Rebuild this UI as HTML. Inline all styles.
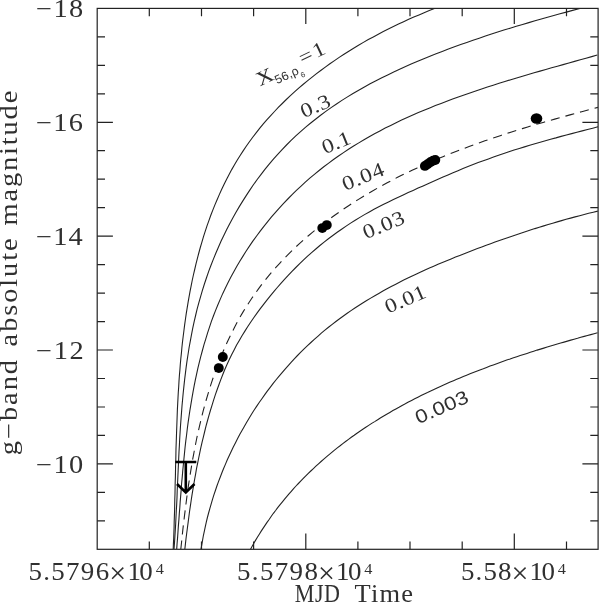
<!DOCTYPE html>
<html><head><meta charset="utf-8"><title>g-band absolute magnitude vs MJD Time</title>
<style>html,body{margin:0;padding:0;background:#fff;overflow:hidden}svg{display:block}text{font-family:"Liberation Serif",serif;fill:#303030}.sans{font-family:"Liberation Sans",sans-serif}</style></head><body>
<svg width="600" height="603" viewBox="0 0 600 603">
<rect x="0" y="0" width="600" height="603" fill="#fff"/>
<defs><clipPath id="fr"><rect x="97.2" y="8.4" width="500.9" height="540.9"/></clipPath></defs>
<g clip-path="url(#fr)" fill="none" stroke="#222" stroke-width="1.1">
<path d="M173.2,549.4 L173.4,543.8 L173.7,538.2 L173.9,532.6 L174.1,527.0 L174.2,521.4 L174.4,515.8 L174.6,510.2 L174.7,504.6 L174.8,499.0 L175.0,493.4 L175.1,487.8 L175.2,482.2 L175.4,476.5 L175.5,470.9 L175.6,465.3 L175.8,459.7 L175.9,454.1 L176.0,448.5 L176.2,442.9 L176.4,437.2 L176.6,431.6 L176.8,426.0 L177.0,420.4 L177.2,414.8 L177.4,409.2 L177.7,403.6 L178.0,397.9 L178.3,392.3 L178.7,386.7 L179.0,381.1 L179.4,375.5 L179.9,369.9 L180.3,364.3 L180.8,358.7 L181.4,353.1 L181.9,347.5 L182.5,341.9 L183.2,336.3 L183.9,330.7 L184.6,325.1 L185.4,319.5 L186.2,313.9 L187.1,308.4 L188.0,302.8 L189.0,297.2 L190.0,291.6 L191.1,286.1 L192.2,280.5 L193.4,275.0 L194.7,269.5 L196.0,263.9 L197.4,258.4 L198.8,253.0 L200.3,247.5 L201.9,242.1 L203.5,236.7 L205.2,231.3 L207.0,225.9 L208.9,220.6 L210.8,215.3 L212.8,210.1 L214.9,204.9 L217.1,199.7 L219.3,194.6 L221.6,189.5 L224.0,184.4 L226.5,179.4 L229.1,174.5 L231.7,169.6 L234.5,164.8 L237.3,160.0 L240.3,155.3 L243.3,150.6 L246.4,146.0 L249.6,141.5 L252.9,137.0 L256.3,132.6 L259.8,128.2 L263.3,123.9 L267.0,119.7 L270.7,115.6 L274.5,111.5 L278.3,107.4 L282.3,103.5 L286.3,99.5 L290.4,95.7 L294.5,91.9 L298.7,88.2 L303.0,84.5 L307.4,80.9 L311.8,77.4 L316.2,73.9 L320.7,70.5 L325.3,67.1 L329.9,63.8 L334.5,60.6 L339.2,57.4 L344.0,54.3 L348.8,51.2 L353.6,48.2 L358.5,45.3 L363.4,42.4 L368.3,39.6 L373.3,36.9 L378.3,34.2 L383.3,31.6 L388.3,29.0 L393.4,26.5 L398.5,24.1 L403.6,21.7 L408.7,19.3 L413.8,17.1 L419.0,14.9 L424.1,12.7 L429.3,10.6 L434.4,8.6 L439.6,6.7 L444.8,4.7 L450.0,2.9"/>
<path d="M174.0,549.2 L174.5,542.8 L174.9,536.4 L175.3,530.0 L175.7,523.5 L176.0,517.0 L176.3,510.6 L176.7,504.1 L177.0,497.6 L177.2,491.1 L177.5,484.5 L177.8,478.0 L178.1,471.5 L178.4,464.9 L178.7,458.4 L179.0,451.9 L179.4,445.3 L179.7,438.8 L180.1,432.2 L180.5,425.7 L181.0,419.1 L181.5,412.6 L182.0,406.0 L182.6,399.5 L183.2,393.0 L183.9,386.4 L184.6,379.9 L185.4,373.4 L186.2,366.9 L187.1,360.4 L188.1,354.0 L189.1,347.5 L190.3,341.1 L191.5,334.7 L192.7,328.3 L194.1,321.9 L195.6,315.5 L197.1,309.2 L198.8,302.9 L200.6,296.6 L202.4,290.3 L204.4,284.0 L206.5,277.8 L208.6,271.6 L210.9,265.5 L213.3,259.4 L215.8,253.3 L218.4,247.3 L221.0,241.3 L223.8,235.4 L226.7,229.5 L229.7,223.7 L232.8,218.0 L236.0,212.3 L239.3,206.6 L242.7,201.1 L246.2,195.6 L249.8,190.1 L253.4,184.8 L257.2,179.5 L261.1,174.3 L265.1,169.2 L269.2,164.2 L273.4,159.2 L277.7,154.4 L282.1,149.6 L286.5,145.0 L291.1,140.4 L295.8,135.9 L300.6,131.6 L305.4,127.3 L310.4,123.2 L315.5,119.2 L320.6,115.2 L325.8,111.4 L331.1,107.6 L336.5,104.0 L341.9,100.4 L347.5,96.9 L353.0,93.5 L358.7,90.2 L364.4,87.0 L370.1,83.8 L376.0,80.8 L381.8,77.8 L387.7,74.9 L393.7,72.0 L399.6,69.2 L405.6,66.5 L411.7,63.8 L417.7,61.2 L423.8,58.7 L429.9,56.2 L436.1,53.8 L442.2,51.4 L448.4,49.1 L454.5,46.8 L460.7,44.6 L466.8,42.4 L473.0,40.3 L479.2,38.2 L485.4,36.1 L491.5,34.1 L497.7,32.1 L503.9,30.1 L510.1,28.2 L516.3,26.3 L522.6,24.5 L528.8,22.6 L535.0,20.8 L541.3,19.0 L547.5,17.3 L553.8,15.5 L560.0,13.8 L566.3,12.1 L572.6,10.4 L578.9,8.7 L585.2,7.1 L591.5,5.4 L597.8,3.8"/>
<path d="M176.7,549.1 L177.1,543.3 L177.6,537.4 L178.0,531.5 L178.4,525.6 L178.9,519.6 L179.3,513.6 L179.8,507.7 L180.2,501.6 L180.7,495.6 L181.2,489.6 L181.6,483.5 L182.2,477.4 L182.7,471.4 L183.3,465.3 L183.9,459.2 L184.5,453.1 L185.1,447.0 L185.8,440.9 L186.6,434.8 L187.3,428.7 L188.1,422.6 L189.0,416.5 L189.9,410.4 L190.9,404.3 L191.9,398.3 L193.0,392.2 L194.1,386.2 L195.3,380.2 L196.6,374.2 L197.9,368.2 L199.3,362.3 L200.8,356.4 L202.4,350.5 L204.0,344.6 L205.8,338.8 L207.6,332.9 L209.5,327.2 L211.4,321.4 L213.5,315.7 L215.7,310.1 L218.0,304.5 L220.4,298.9 L222.8,293.4 L225.4,287.9 L228.1,282.5 L230.9,277.1 L233.8,271.8 L236.7,266.5 L239.8,261.3 L243.0,256.1 L246.2,251.0 L249.6,245.9 L253.0,240.9 L256.6,236.0 L260.2,231.1 L263.9,226.3 L267.7,221.6 L271.5,216.9 L275.5,212.3 L279.5,207.8 L283.6,203.3 L287.8,199.0 L292.1,194.6 L296.4,190.4 L300.8,186.3 L305.3,182.2 L309.8,178.2 L314.4,174.3 L319.1,170.5 L323.8,166.7 L328.7,163.1 L333.5,159.5 L338.5,156.0 L343.5,152.6 L348.5,149.3 L353.6,146.0 L358.8,142.9 L364.0,139.8 L369.2,136.8 L374.5,133.8 L379.9,130.9 L385.2,128.1 L390.7,125.4 L396.1,122.7 L401.6,120.1 L407.2,117.5 L412.8,115.0 L418.4,112.6 L424.0,110.2 L429.7,107.9 L435.4,105.6 L441.1,103.4 L446.8,101.2 L452.6,99.0 L458.3,96.9 L464.1,94.9 L469.9,92.9 L475.7,90.9 L481.6,88.9 L487.4,87.0 L493.2,85.2 L499.1,83.3 L504.9,81.5 L510.8,79.7 L516.6,78.0 L522.5,76.2 L528.3,74.5 L534.1,72.8 L540.0,71.1 L545.8,69.5 L551.6,67.8 L557.4,66.2 L563.1,64.6 L568.9,63.0 L574.6,61.4 L580.3,59.8 L586.0,58.2 L591.7,56.6 L597.3,55.0"/>
<path d="M180.8,549.3 L181.4,543.8 L181.9,538.4 L182.5,532.9 L183.1,527.4 L183.8,521.9 L184.4,516.4 L185.1,510.9 L185.8,505.3 L186.5,499.8 L187.2,494.2 L188.0,488.6 L188.8,483.1 L189.7,477.5 L190.6,471.9 L191.5,466.3 L192.4,460.7 L193.5,455.2 L194.5,449.6 L195.6,444.0 L196.7,438.5 L197.9,432.9 L199.2,427.4 L200.5,421.9 L201.8,416.4 L203.2,410.9 L204.7,405.4 L206.2,400.0 L207.8,394.6 L209.4,389.2 L211.1,383.8 L212.9,378.5 L214.7,373.2 L216.7,367.9 L218.6,362.6 L220.7,357.4 L222.8,352.3 L225.0,347.1 L227.3,342.0 L229.7,337.0 L232.2,332.0 L234.7,327.0 L237.3,322.1 L240.0,317.2 L242.8,312.4 L245.7,307.7 L248.7,303.0 L251.8,298.3 L255.0,293.7 L258.3,289.2 L261.6,284.7 L265.1,280.3 L268.6,275.9 L272.2,271.6 L275.9,267.4 L279.7,263.3 L283.5,259.2 L287.5,255.1 L291.5,251.2 L295.5,247.3 L299.7,243.4 L303.9,239.7 L308.1,236.0 L312.4,232.4 L316.8,228.8 L321.2,225.3 L325.7,221.9 L330.2,218.5 L334.7,215.2 L339.3,212.0 L344.0,208.8 L348.6,205.7 L353.3,202.6 L358.1,199.6 L362.8,196.7 L367.6,193.8 L372.5,191.0 L377.3,188.2 L382.2,185.5 L387.2,182.8 L392.1,180.2 L397.1,177.6 L402.1,175.1 L407.1,172.7 L412.1,170.2 L417.2,167.9 L422.3,165.5 L427.4,163.3 L432.6,161.0 L437.7,158.8 L442.9,156.7 L448.1,154.6 L453.3,152.5 L458.5,150.5 L463.8,148.5 L469.1,146.5 L474.3,144.6 L479.6,142.7 L484.9,140.8 L490.2,139.0 L495.6,137.2 L500.9,135.4 L506.3,133.7 L511.6,131.9 L517.0,130.3 L522.3,128.6 L527.7,127.0 L533.1,125.3 L538.5,123.7 L543.9,122.2 L549.3,120.6 L554.7,119.1 L560.1,117.6 L565.5,116.1 L570.9,114.6 L576.3,113.1 L581.7,111.7 L587.1,110.2 L592.5,108.8 L597.9,107.4" stroke-dasharray="9.1,6.0" stroke-dashoffset="0.18"/>
<path d="M184.8,549.5 L185.4,544.1 L186.0,538.7 L186.7,533.3 L187.4,528.0 L188.1,522.6 L188.8,517.2 L189.5,511.8 L190.3,506.4 L191.1,501.0 L191.9,495.6 L192.8,490.2 L193.7,484.8 L194.6,479.5 L195.6,474.1 L196.5,468.7 L197.6,463.4 L198.7,458.0 L199.8,452.7 L200.9,447.4 L202.1,442.1 L203.4,436.8 L204.7,431.5 L206.0,426.2 L207.4,421.0 L208.9,415.7 L210.4,410.5 L212.0,405.3 L213.6,400.1 L215.3,394.9 L217.1,389.8 L218.9,384.7 L220.8,379.6 L222.8,374.5 L224.8,369.5 L227.0,364.5 L229.3,359.6 L231.6,354.7 L234.1,349.9 L236.6,345.1 L239.3,340.4 L242.0,335.7 L244.9,331.1 L247.8,326.5 L250.8,322.0 L253.9,317.5 L257.0,313.1 L260.3,308.7 L263.6,304.4 L266.9,300.1 L270.3,295.8 L273.8,291.6 L277.3,287.5 L280.9,283.4 L284.5,279.3 L288.2,275.3 L292.0,271.4 L295.8,267.5 L299.7,263.7 L303.6,259.9 L307.6,256.2 L311.6,252.6 L315.8,249.0 L319.9,245.5 L324.1,242.1 L328.4,238.8 L332.8,235.5 L337.2,232.3 L341.6,229.2 L346.1,226.1 L350.6,223.1 L355.2,220.2 L359.9,217.4 L364.5,214.6 L369.3,211.9 L374.0,209.3 L378.8,206.8 L383.7,204.3 L388.5,201.9 L393.4,199.5 L398.3,197.2 L403.2,194.9 L408.2,192.6 L413.1,190.4 L418.1,188.1 L423.1,185.9 L428.0,183.7 L433.0,181.5 L438.0,179.3 L443.0,177.1 L448.0,174.9 L453.0,172.8 L458.0,170.7 L463.0,168.6 L468.0,166.6 L473.1,164.6 L478.2,162.6 L483.3,160.7 L488.4,158.9 L493.5,157.0 L498.6,155.2 L503.8,153.5 L508.9,151.8 L514.1,150.1 L519.3,148.5 L524.5,146.9 L529.7,145.3 L534.9,143.8 L540.2,142.3 L545.4,140.8 L550.6,139.3 L555.9,137.9 L561.1,136.4 L566.4,135.0 L571.7,133.6 L576.9,132.2 L582.2,130.9 L587.5,129.5 L592.7,128.2 L598.0,126.8"/>
<path d="M200.9,549.9 L201.7,545.2 L202.5,540.6 L203.3,536.0 L204.3,531.3 L205.3,526.7 L206.3,522.1 L207.4,517.5 L208.6,513.0 L209.9,508.4 L211.2,503.9 L212.5,499.4 L213.9,494.9 L215.4,490.5 L216.9,486.0 L218.5,481.6 L220.2,477.2 L221.9,472.8 L223.6,468.5 L225.5,464.1 L227.3,459.8 L229.3,455.5 L231.3,451.3 L233.3,447.1 L235.4,442.9 L237.5,438.7 L239.7,434.5 L242.0,430.4 L244.3,426.4 L246.7,422.3 L249.1,418.3 L251.5,414.3 L254.0,410.3 L256.6,406.4 L259.2,402.5 L261.9,398.7 L264.6,394.9 L267.3,391.1 L270.2,387.4 L273.0,383.7 L275.9,380.0 L278.9,376.4 L281.9,372.8 L284.9,369.3 L288.0,365.8 L291.1,362.3 L294.3,358.9 L297.5,355.5 L300.8,352.2 L304.1,348.9 L307.5,345.7 L310.9,342.5 L314.3,339.4 L317.8,336.3 L321.3,333.2 L324.9,330.2 L328.5,327.3 L332.2,324.4 L335.9,321.5 L339.6,318.7 L343.4,316.0 L347.2,313.3 L351.0,310.6 L354.9,308.0 L358.8,305.5 L362.7,303.0 L366.7,300.5 L370.7,298.1 L374.8,295.7 L378.8,293.4 L382.9,291.1 L387.0,288.8 L391.2,286.6 L395.3,284.4 L399.5,282.2 L403.7,280.1 L407.9,278.0 L412.2,276.0 L416.5,274.0 L420.7,272.0 L425.0,270.0 L429.4,268.1 L433.7,266.2 L438.0,264.3 L442.4,262.5 L446.7,260.7 L451.1,258.9 L455.5,257.1 L459.8,255.4 L464.2,253.7 L468.6,251.9 L473.0,250.3 L477.4,248.6 L481.8,246.9 L486.2,245.3 L490.6,243.7 L495.0,242.1 L499.4,240.5 L503.8,239.0 L508.3,237.4 L512.7,235.9 L517.1,234.4 L521.5,233.0 L526.0,231.5 L530.4,230.1 L534.9,228.6 L539.3,227.3 L543.8,225.9 L548.2,224.5 L552.7,223.2 L557.2,221.9 L561.6,220.6 L566.1,219.3 L570.6,218.1 L575.1,216.9 L579.7,215.7 L584.2,214.5 L588.7,213.3 L593.3,212.2 L597.8,211.1"/>
<path d="M250.1,550.0 L251.9,546.8 L253.7,543.6 L255.5,540.4 L257.4,537.3 L259.3,534.2 L261.2,531.1 L263.2,528.1 L265.2,525.1 L267.2,522.1 L269.3,519.2 L271.3,516.2 L273.4,513.3 L275.6,510.5 L277.7,507.7 L279.9,504.9 L282.2,502.1 L284.4,499.3 L286.7,496.6 L289.0,493.9 L291.3,491.3 L293.6,488.6 L296.0,486.0 L298.4,483.5 L300.9,480.9 L303.3,478.4 L305.8,475.9 L308.3,473.4 L310.8,471.0 L313.4,468.6 L315.9,466.2 L318.5,463.8 L321.1,461.5 L323.8,459.1 L326.4,456.8 L329.1,454.6 L331.8,452.3 L334.5,450.1 L337.3,447.9 L340.1,445.8 L342.8,443.6 L345.6,441.5 L348.5,439.4 L351.3,437.3 L354.2,435.3 L357.0,433.2 L359.9,431.2 L362.8,429.3 L365.8,427.3 L368.7,425.4 L371.7,423.4 L374.7,421.6 L377.7,419.7 L380.7,417.8 L383.7,416.0 L386.7,414.2 L389.8,412.4 L392.9,410.6 L395.9,408.9 L399.0,407.2 L402.1,405.4 L405.3,403.8 L408.4,402.1 L411.6,400.4 L414.7,398.8 L417.9,397.2 L421.1,395.6 L424.3,394.0 L427.5,392.5 L430.7,390.9 L433.9,389.4 L437.1,387.9 L440.4,386.4 L443.6,385.0 L446.9,383.5 L450.2,382.1 L453.5,380.7 L456.7,379.3 L460.0,377.9 L463.3,376.5 L466.6,375.2 L470.0,373.8 L473.3,372.5 L476.6,371.2 L479.9,369.9 L483.3,368.7 L486.6,367.4 L490.0,366.1 L493.3,364.9 L496.7,363.7 L500.0,362.5 L503.4,361.3 L506.7,360.1 L510.1,359.0 L513.5,357.8 L516.8,356.7 L520.2,355.6 L523.6,354.5 L527.0,353.4 L530.3,352.3 L533.7,351.2 L537.1,350.1 L540.5,349.1 L543.8,348.1 L547.2,347.0 L550.6,346.0 L554.0,345.0 L557.3,344.0 L560.7,343.0 L564.0,342.1 L567.4,341.1 L570.8,340.1 L574.1,339.2 L577.5,338.3 L580.8,337.3 L584.2,336.4 L587.5,335.5 L590.8,334.6 L594.1,333.7 L597.5,332.8"/>
</g>
<g fill="none" stroke="#222" stroke-width="1.2">
<rect x="97.2" y="8.4" width="500.9" height="540.9"/>
<path d="M149.3,549.3 v-7.8 M149.3,8.4 v7.8 M201.5,549.3 v-7.8 M201.5,8.4 v7.8 M253.6,549.3 v-7.8 M253.6,8.4 v7.8 M305.8,549.3 v-15.7 M305.8,8.4 v15.7 M357.9,549.3 v-7.8 M357.9,8.4 v7.8 M410.0,549.3 v-7.8 M410.0,8.4 v7.8 M462.2,549.3 v-7.8 M462.2,8.4 v7.8 M514.3,549.3 v-15.7 M514.3,8.4 v15.7 M566.5,549.3 v-7.8 M566.5,8.4 v7.8 M97.2,36.9 h7.8 M598.1,36.9 h-7.8 M97.2,65.3 h7.8 M598.1,65.3 h-7.8 M97.2,93.8 h7.8 M598.1,93.8 h-7.8 M97.2,122.3 h15.7 M598.1,122.3 h-15.7 M97.2,150.7 h7.8 M598.1,150.7 h-7.8 M97.2,179.2 h7.8 M598.1,179.2 h-7.8 M97.2,207.7 h7.8 M598.1,207.7 h-7.8 M97.2,236.1 h15.7 M598.1,236.1 h-15.7 M97.2,264.6 h7.8 M598.1,264.6 h-7.8 M97.2,293.1 h7.8 M598.1,293.1 h-7.8 M97.2,321.6 h7.8 M598.1,321.6 h-7.8 M97.2,350.0 h15.7 M598.1,350.0 h-15.7 M97.2,378.5 h7.8 M598.1,378.5 h-7.8 M97.2,407.0 h7.8 M598.1,407.0 h-7.8 M97.2,435.4 h7.8 M598.1,435.4 h-7.8 M97.2,463.9 h15.7 M598.1,463.9 h-15.7 M97.2,492.4 h7.8 M598.1,492.4 h-7.8 M97.2,520.8 h7.8 M598.1,520.8 h-7.8 "/>
</g>
<g fill="#000">
<circle cx="218.8" cy="368.1" r="4.95"/>
<circle cx="222.8" cy="357" r="4.95"/>
<circle cx="322.3" cy="228.1" r="4.95"/>
<circle cx="326.8" cy="225.1" r="4.95"/>
<circle cx="424.9" cy="165.9" r="4.95"/>
<circle cx="427.5" cy="164.3" r="4.95"/>
<circle cx="430.3" cy="162.2" r="4.95"/>
<circle cx="433" cy="160.8" r="4.95"/>
<circle cx="435.3" cy="159.9" r="4.95"/>
<ellipse cx="536.5" cy="118.5" rx="5.8" ry="5.25"/>
</g>
<g fill="none" stroke="#000" stroke-width="2.6" stroke-linecap="butt" stroke-linejoin="miter">
<path d="M175.3,462 H196.3 M185.8,462 V492 M177,484 L185.8,492.5 L194.5,484"/>
</g>
<text transform="translate(37.50,17.30) scale(1.16,1)" x="-1.23" y="0" font-size="24.5px" letter-spacing="1.186px">−18</text>
<text transform="translate(37.50,131.17) scale(1.16,1)" x="-1.23" y="0" font-size="24.5px" letter-spacing="1.088px">−16</text>
<text transform="translate(37.50,245.05) scale(1.16,1)" x="-1.23" y="0" font-size="24.5px" letter-spacing="0.917px">−14</text>
<text transform="translate(37.50,358.92) scale(1.16,1)" x="-1.23" y="0" font-size="24.5px" letter-spacing="1.394px">−12</text>
<text transform="translate(37.50,472.79) scale(1.16,1)" x="-1.23" y="0" font-size="24.5px" letter-spacing="1.186px">−10</text>
<text transform="translate(30.00,580.00) scale(1.1,1)" x="-1.42" y="0" font-size="24.5px" letter-spacing="1.193px">5.5796</text>
<text transform="translate(111.70,582.60) scale(1.0,1)" x="-2.33" y="0" font-size="30px" letter-spacing="0.000px">×</text>
<text transform="translate(131.70,580.00) scale(1.1,1)" x="-3.92" y="0" font-size="24.5px" letter-spacing="0.000px">1</text>
<text transform="translate(140.50,580.00) scale(1.1,1)" x="-1.03" y="0" font-size="24.5px" letter-spacing="0.000px">0</text>
<text transform="translate(156.00,573.90) scale(1.05,1)" x="-0.33" y="0" font-size="15.5px" letter-spacing="0.000px">4</text>
<text transform="translate(238.60,580.00) scale(1.1,1)" x="-1.42" y="0" font-size="24.5px" letter-spacing="1.232px">5.5798</text>
<text transform="translate(320.30,582.60) scale(1.0,1)" x="-2.32" y="0" font-size="30px" letter-spacing="0.000px">×</text>
<text transform="translate(340.30,580.00) scale(1.1,1)" x="-3.92" y="0" font-size="24.5px" letter-spacing="0.000px">1</text>
<text transform="translate(349.10,580.00) scale(1.1,1)" x="-1.03" y="0" font-size="24.5px" letter-spacing="0.000px">0</text>
<text transform="translate(364.60,573.90) scale(1.05,1)" x="-0.33" y="0" font-size="15.5px" letter-spacing="0.000px">4</text>
<text transform="translate(462.50,580.00) scale(1.1,1)" x="-1.42" y="0" font-size="24.5px" letter-spacing="1.038px">5.58</text>
<text transform="translate(513.90,582.60) scale(1.0,1)" x="-2.33" y="0" font-size="30px" letter-spacing="0.000px">×</text>
<text transform="translate(533.90,580.00) scale(1.1,1)" x="-3.92" y="0" font-size="24.5px" letter-spacing="0.000px">1</text>
<text transform="translate(542.70,580.00) scale(1.1,1)" x="-1.03" y="0" font-size="24.5px" letter-spacing="0.000px">0</text>
<text transform="translate(558.20,573.90) scale(1.05,1)" x="-0.33" y="0" font-size="15.5px" letter-spacing="0.000px">4</text>
<text transform="translate(295.50,602.00) scale(0.9,1)" x="-0.71" y="0" font-size="24.5px" letter-spacing="0.512px">MJD</text>
<text transform="translate(355.00,602.00) scale(1.08,1)" x="-0.44" y="0" font-size="24.5px" letter-spacing="1.141px">Time</text>
<g transform="translate(16.8,454) rotate(-90)">
<text transform="translate(0.00,0.00) scale(1.16,1)" x="-1.05" y="0" font-size="24.5px" letter-spacing="1.685px">g−band</text>
<text transform="translate(108.60,0.00) scale(1.16,1)" x="-0.86" y="0" font-size="24.5px" letter-spacing="1.646px">absolute</text>
<text transform="translate(229.10,0.00) scale(1.16,1)" x="-0.51" y="0" font-size="24.5px" letter-spacing="1.598px">magnitude</text>
</g>
<g transform="translate(261.5,84.5) rotate(-25.5)">
<text transform="translate(-1.00,1.20) scale(1.16,1)" x="-1.12" y="0" font-size="20.3px" letter-spacing="0.000px">X</text>
<text class="sans" transform="translate(14.50,6.40) scale(1.05,1)" x="-0.48" y="0" font-size="12px" letter-spacing="0.198px">56,ρ</text>
<text class="sans" transform="translate(39.30,11.60) scale(1.05,1)" x="-0.02" y="0" font-size="7.5px" letter-spacing="0.000px">6</text>
<text transform="translate(45.70,0.00) scale(1.16,1)" x="-0.30" y="0" font-size="20.3px" letter-spacing="0.000px">=</text>
<text transform="translate(62.80,0.00) scale(1.16,1)" x="-1.74" y="0" font-size="20.3px" letter-spacing="0.000px">1</text>
</g>
<g transform="translate(315.3,106) rotate(-23)">
<text transform="translate(-14.40,6.70) scale(1.16,1)" x="-0.77" y="0" font-size="20.3px" letter-spacing="0.508px">0.3</text>
</g>
<g transform="translate(336,142.6) rotate(-22)">
<text transform="translate(-13.70,6.70) scale(1.16,1)" x="-0.77" y="0" font-size="20.3px" letter-spacing="0.118px">0.1</text>
</g>
<g transform="translate(363.2,176.5) rotate(-22)">
<text transform="translate(-21.10,6.70) scale(1.16,1)" x="-0.77" y="0" font-size="20.3px" letter-spacing="0.650px">0.04</text>
</g>
<g transform="translate(383.5,224.8) rotate(-22.5)">
<text transform="translate(-20.75,6.70) scale(1.16,1)" x="-0.77" y="0" font-size="20.3px" letter-spacing="0.605px">0.03</text>
</g>
<g transform="translate(405,299.3) rotate(-23.5)">
<text transform="translate(-20.25,6.70) scale(1.16,1)" x="-0.77" y="0" font-size="20.3px" letter-spacing="0.459px">0.01</text>
</g>
<g transform="translate(441.7,407.3) rotate(-23.5)">
<text class="sans" transform="translate(-27.25,6.27) scale(1.16,1)" x="-0.74" y="0" font-size="19px" letter-spacing="0.255px">0.003</text>
</g>
</svg></body></html>
